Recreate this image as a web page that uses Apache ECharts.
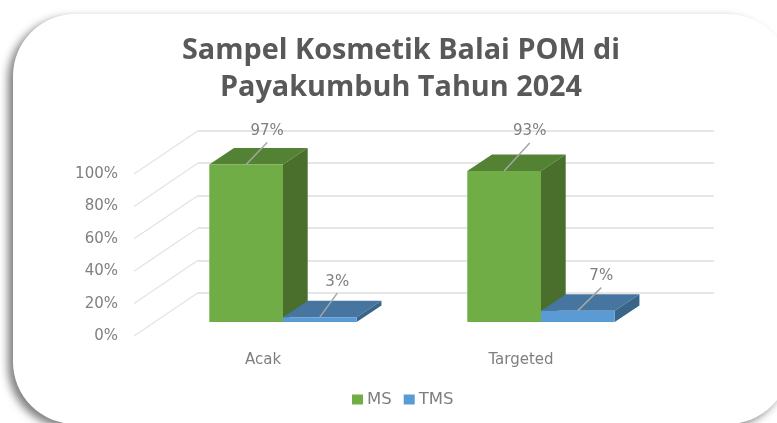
<!DOCTYPE html>
<html>
<head>
<meta charset="utf-8">
<style>
html, body { margin: 0; padding: 0; background: #fff; overflow: hidden; }
#main { width: 777px; height: 423px; }
</style>
<script src="https://cdn.jsdelivr.net/npm/echarts@6/dist/echarts.min.js"></script>
</head>
<body>
<div id="main"></div>
<script>
var titleText = 'Sampel Kosmetik Balai POM di\nPayakumbuh Tahun 2024';
var categories = ['Acak', 'Targeted'];
var seriesNames = ['MS', 'TMS'];
var msValues = [97, 93];
var tmsValues = [3, 7];
var yTicks = [0, 20, 40, 60, 80, 100];

// faces of the fake 3d bars
var msFaces = { front: '#70AD47', top: '#548235', side: '#4A6E2B' };
var tmsFaces = { front: '#5B9BD5', top: '#4675A0', side: '#386588' };

// oblique projection, in pixels
var wallDepth = [64, -43.3];
var barPlane = [20, -14.3];
var barDepth = [24.7, -16.5];
var barShare = 0.2857;

// leader line and label offsets from the middle of each bar's top edge
var msLeaders = [[21, -22, 21, -33], [25.6, -28, 25.6, -39.7]];
var tmsLeaders = [[17.4, -24, 17.4, -35.4], [23.4, -23, 23.4, -34.6]];

var textFont = 'DejaVu Sans';

function pairs(values) {
    return values.map(function (v, i) { return [i, v]; });
}

function barRender(faces, leaders, slot) {
    return function (params, api) {
        var base = api.coord([api.value(0), 0]);
        var head = api.coord([api.value(0), api.value(1)]);
        var w = api.size([1, 0])[0] * barShare;
        var x0 = base[0] + barPlane[0] + slot * w;
        var x1 = x0 + w;
        var yb = base[1] + barPlane[1];
        var yt = head[1] + barPlane[1];
        var dx = barDepth[0], dy = barDepth[1];
        var lead = leaders[params.dataIndex];
        var mid = x0 + w / 2;
        return {
            type: 'group',
            children: [
                { type: 'polygon', shape: { points: [[x0, yt], [x1, yt], [x1 + dx, yt + dy], [x0 + dx, yt + dy]] }, style: { fill: faces.top } },
                { type: 'polygon', shape: { points: [[x1, yt], [x1 + dx, yt + dy], [x1 + dx, yb + dy], [x1, yb]] }, style: { fill: faces.side } },
                { type: 'rect', shape: { x: x0, y: yt, width: w, height: yb - yt }, style: { fill: faces.front } },
                { type: 'line', shape: { x1: mid, y1: yt, x2: mid + lead[0], y2: yt + lead[1] }, style: { stroke: '#A6A6A6', lineWidth: 1.5 } },
                {
                    type: 'text',
                    x: mid + lead[2],
                    y: yt + lead[3],
                    style: {
                        text: api.value(1) + '%',
                        fill: '#7F7F7F',
                        font: '15px "DejaVu Sans"',
                        align: 'center',
                        verticalAlign: 'middle'
                    }
                }
            ]
        };
    };
}

var myChart = echarts.init(document.getElementById('main'));
var option = {
    animation: false,
    backgroundColor: '#fff',
    title: {
        text: titleText,
        left: 396,
        top: 27.5,
        textAlign: 'center',
        textStyle: {
            color: '#595959',
            fontFamily: 'Open Sans',
            fontWeight: 'bold',
            fontSize: 28.8,
            lineHeight: 37
        }
    },
    legend: {
        data: seriesNames,
        left: 347,
        top: 386,
        icon: 'rect',
        itemWidth: 11,
        itemHeight: 10,
        itemGap: 12,
        textStyle: { color: '#7F7F7F', fontFamily: textFont, fontSize: 16.5, padding: [0, 0, 0, -1] }
    },
    graphic: [{
        type: 'rect',
        z: -10,
        silent: true,
        shape: { x: 13, y: 14, width: 777, height: 410, r: 62 },
        style: {
            fill: '#fff',
            shadowBlur: 8,
            shadowOffsetX: -5,
            shadowOffsetY: 4,
            shadowColor: 'rgba(0,0,0,0.5)'
        }
    }],
    grid: [
        { left: 134, width: 516, top: 174, height: 162.3 },
        { left: 198, width: 516, top: 130.7, height: 162 }
    ],
    xAxis: [
        {
            gridIndex: 0,
            type: 'category',
            data: categories,
            axisLine: { show: false },
            axisTick: { show: false },
            axisLabel: { color: '#7F7F7F', fontFamily: textFont, fontSize: 15, margin: 16 }
        },
        { gridIndex: 1, type: 'value', min: 0, max: 1, show: false }
    ],
    yAxis: [
        {
            gridIndex: 0,
            type: 'value',
            min: 0,
            max: 100,
            interval: 20,
            axisLine: { show: false },
            axisTick: { show: false },
            splitLine: { show: false },
            axisLabel: {
                formatter: '{value}%',
                color: '#7F7F7F',
                fontFamily: textFont,
                fontSize: 15,
                margin: 16
            }
        },
        {
            gridIndex: 1,
            type: 'value',
            min: 0,
            max: 100,
            interval: 20,
            axisLine: { show: false },
            axisTick: { show: false },
            axisLabel: { show: false },
            splitLine: { lineStyle: { color: '#DEDEDE', width: 1.5 } }
        }
    ],
    series: [
        {
            // diagonal floor-to-wall lines, one per tick
            type: 'custom',
            xAxisIndex: 1,
            yAxisIndex: 1,
            silent: true,
            clip: false,
            data: yTicks.map(function (v) { return [0, v]; }),
            renderItem: function (params, api) {
                var p = api.coord([api.value(0), api.value(1)]);
                return {
                    type: 'line',
                    shape: { x1: p[0], y1: p[1], x2: p[0] - wallDepth[0], y2: p[1] - wallDepth[1] },
                    style: { stroke: '#E3E3E3', lineWidth: 1.2 }
                };
            }
        },
        {
            name: seriesNames[0],
            type: 'custom',
            xAxisIndex: 0,
            yAxisIndex: 0,
            clip: false,
            itemStyle: { color: msFaces.front },
            data: pairs(msValues),
            renderItem: barRender(msFaces, msLeaders, -1)
        },
        {
            name: seriesNames[1],
            type: 'custom',
            xAxisIndex: 0,
            yAxisIndex: 0,
            clip: false,
            itemStyle: { color: tmsFaces.front },
            data: pairs(tmsValues),
            renderItem: barRender(tmsFaces, tmsLeaders, 0)
        }
    ]
};
myChart.setOption(option, true);
</script>
</body>
</html>
